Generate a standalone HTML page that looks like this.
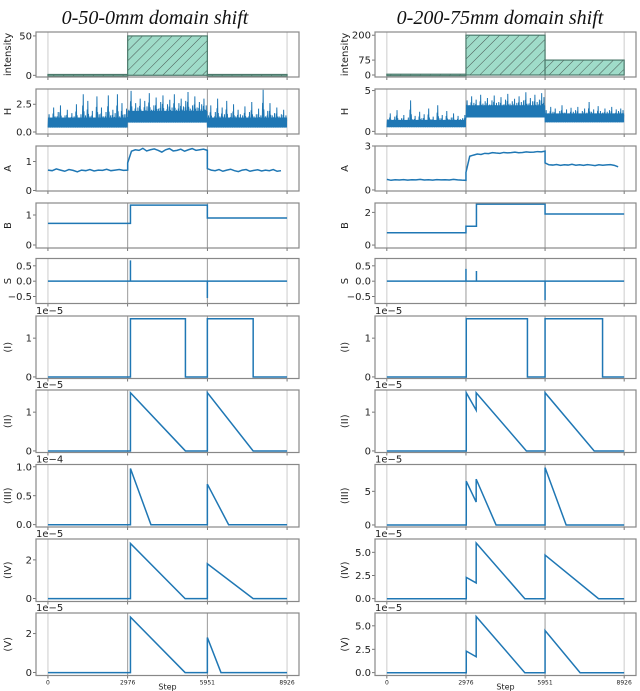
<!DOCTYPE html>
<html><head><meta charset="utf-8"><style>
html,body{margin:0;padding:0;background:#fff;}
svg{display:block;}
text{font-family:"DejaVu Sans","Liberation Sans",sans-serif;}
.title{font-family:"Liberation Serif",serif;font-style:italic;font-size:20px;fill:#111;}
</style></head><body>
<svg id="fig" width="640" height="691" viewBox="0 0 640 691" xmlns="http://www.w3.org/2000/svg">
<defs>
<pattern id="hatch" patternUnits="userSpaceOnUse" width="7" height="7" patternTransform="rotate(45)">
<rect width="7" height="7" fill="#9fdcc9"/><line x1="0" y1="0" x2="0" y2="7" stroke="#333" stroke-width="0.8"/>
</pattern>
</defs>
<text class="title" x="155" y="24" text-anchor="middle">0-50-0mm domain shift</text>
<text class="title" x="500" y="24" text-anchor="middle">0-200-75mm domain shift</text>
</svg>
<script>
// ---- data ----
const stepTicks = [0, 2976, 5951, 8926];
const segBounds = [0, 2976, 5951, 8926];
const intensityL = [1, 50, 1];
const intensityR = [4, 200, 75];
const hBaseL = [0.4, 0.85, 0.4];
const hTopL = [1.3, 1.9, 1.3];
const hPeaksL1 = [1.6,1.2,2.2,1.4,1.8,2.4,1.3,1.5,2.0,1.2,1.7,1.4,2.5,1.3,1.6,3.4,1.5,2.8,1.4,1.9,1.3,3.2,1.6,2.2,1.4,1.8,3.3,1.5,2.0,1.7,3.4,1.4,2.6,1.6,2.1];
const hPeaksL2 = [2.0,3.7,1.9,2.6,2.2,3.0,1.8,2.8,2.3,3.5,2.0,2.4,3.1,2.1,2.7,3.3,1.9,2.5,2.9,2.2,3.4,2.0,2.6,3.0,2.3,2.8,3.6,2.1,2.4,3.2,2.2,2.7,2.5,3.0,2.4];
const hPeaksL3 = [1.5,2.4,1.3,1.8,3.0,1.4,2.2,1.6,2.8,1.3,1.7,2.5,1.4,2.0,1.6,1.5,2.3,1.3,1.8,2.7,1.4,1.6,2.1,1.5,3.8,1.4,1.9,2.6,1.5,1.7,2.2,1.4,1.6,2.0,1.5];
const hBaseR = [0.5, 1.7, 1.1];
const hTopR = [1.4, 3.2, 2.2];
const hPeaksR1 = [1.5,2.2,1.3,1.8,2.6,1.4,1.6,2.0,1.3,1.7,3.8,1.5,1.9,1.4,2.4,1.6,2.1,1.4,2.8,1.5,1.8,1.3,3.2,1.6,2.0,1.4,2.5,1.5,1.7,2.2,1.4,1.9,1.5,1.6,2.0];
const hPeaksR2 = [3.8,3.2,4.3,3.5,3.9,3.1,4.5,3.4,3.7,4.1,3.3,3.8,4.4,3.5,3.6,4.2,3.3,3.9,4.6,3.4,3.7,4.0,3.5,4.3,3.6,3.8,4.8,3.4,4.1,3.7,4.5,3.6,3.9,4.7,4.2];
const hPeaksR3 = [2.6,2.2,3.0,2.4,2.8,2.1,2.5,3.2,2.3,2.7,2.2,2.9,2.4,2.6,3.0,2.2,2.5,2.8,2.3,3.6,2.4,2.7,2.2,3.1,2.5,2.3,2.8,2.4,2.6,3.0,2.2,2.7,2.5,2.8,2.6];
const aL1 = [0.70,0.68,0.74,0.70,0.66,0.72,0.69,0.64,0.70,0.68,0.72,0.67,0.70,0.69,0.73,0.68,0.70,0.72,0.69,0.70];
const aL2 = [0.95,1.35,1.40,1.38,1.45,1.36,1.40,1.43,1.38,1.32,1.40,1.44,1.36,1.38,1.42,1.35,1.40,1.44,1.38,1.40,1.42,1.38];
const aL3 = [0.75,0.70,0.68,0.72,0.66,0.70,0.73,0.68,0.65,0.70,0.72,0.66,0.69,0.71,0.67,0.70,0.68,0.72,0.66,0.68];
const aR1 = [0.72,0.66,0.70,0.68,0.71,0.67,0.70,0.69,0.72,0.68,0.70,0.67,0.71,0.69,0.70,0.68,0.72,0.69,0.67,0.66];
const aR2 = [1.2,2.3,2.38,2.45,2.42,2.50,2.48,2.55,2.52,2.50,2.56,2.53,2.55,2.58,2.54,2.56,2.60,2.57,2.58,2.62,2.60,2.65];
const aR3 = [1.85,1.72,1.70,1.74,1.68,1.72,1.70,1.75,1.69,1.72,1.68,1.73,1.70,1.66,1.72,1.69,1.71,1.73,1.68,1.58];
const bStepsL = [0, 3080, 5951, 8926];
const bValsL = [0.72, 1.33, 0.9];
const bStepsR = [0, 2976, 3370, 5951, 8926];
const bValsR = [0.75, 1.15, 2.5, 1.9];
const sStepsL = [3080, 5951];
const sValsL = [0.68, -0.55];
const sStepsR = [2976, 3370, 5951];
const sValsR = [0.4, 0.33, -0.62];
const iStepsL = [0,3080,3080,5132,5132,5951,5951,7661,7661,8926];
const iValsL  = [0,0,1.5,1.5,0,0,1.5,1.5,0,0];
const iStepsR = [0,2987,2987,5288,5288,5951,5951,8114,8114,8926];
const iValsR  = [0,0,1.5,1.5,0,0,1.5,1.5,0,0];
const iiStepsL = [0,3080,3080,5132,5951,5951,7661,8926];
const iiValsL  = [0,0,1.5,0,0,1.5,0,0];
const iiStepsR = [0,2987,2987,3360,3360,5250,5951,5951,7800,8926];
const iiValsR  = [0,0,1.5,1.05,1.5,0,0,1.5,0,0];
const iiiStepsL = [0,3080,3080,3845,5951,5951,6745,8926];
const iiiValsL  = [0,0,0.97,0,0,0.7,0,0];
const iiiStepsR = [0,2987,2987,3360,3360,4108,5951,5951,6745,8926];
const iiiValsR  = [0,0,6.5,3.4,6.8,0,0,8.5,0,0];
const ivStepsL = [0,3080,3080,5120,5951,5951,7661,8926];
const ivValsL  = [0,0,2.85,0,0,1.8,0,0];
const ivStepsR = [0,2987,2987,3360,3360,5190,5951,5951,7965,8926];
const ivValsR  = [0,0,2.3,1.7,6.0,0,0,4.7,0,0];
const vStepsL = [0,3080,3080,5120,5951,5951,6460,8926];
const vValsL  = [0,0,2.85,0,0,1.8,0,0];
const vStepsR = [0,2987,2987,3360,3360,5190,5951,5951,7270,8926];
const vValsR  = [0,0,2.3,1.7,6.0,0,0,4.5,0,0];

// ---- drawing ----
const NS = "http://www.w3.org/2000/svg";
const fig = document.getElementById('fig');
const BLUE = '#1f77b4';
const XLIM = [-446, 9372];
function mk(tag, attrs, parent){const e=document.createElementNS(NS,tag);for(const k in attrs)e.setAttribute(k,attrs[k]);(parent||fig).appendChild(e);return e;}
const rowTops = [32, 89, 146, 203, 258.5, 316, 390, 464.5, 539, 613];
const rowH = [45,45,45,45,45,62.5,62.5,62.5,62.5,62.5];
const cols = [{x0:36,x1:299,side:'left',labX:11},{x0:375,x1:636,side:'right',labX:348}];

function makePanel(ci, ri, ylim, ticks, tickLabels, ylabel, offset){
  const c = cols[ci], y0 = rowTops[ri], h = rowH[ri];
  const g = mk('g',{});
  
  
  const sx = v => c.x0 + (v - XLIM[0])/(XLIM[1]-XLIM[0])*(c.x1-c.x0);
  const sy = v => y0 + h - (v - ylim[0])/(ylim[1]-ylim[0])*h;
  stepTicks.forEach((s,i)=>{
    const ln = mk('line',{x1:sx(s),x2:sx(s),y1:y0,y2:y0+h,stroke:(i==0||i==3)?'#ccc':'#999','stroke-width':1},g);
    
    
    mk('line',{x1:sx(s),x2:sx(s),y1:y0+h,y2:y0+h+3,stroke:'#555','stroke-width':0.8},g);
  });
  ticks.forEach((t,i)=>{
    mk('line',{x1:c.x0-3,x2:c.x0,y1:sy(t),y2:sy(t),stroke:'#555','stroke-width':0.8},g);
    const tx = mk('text',{x:c.x0-4,y:sy(t)+3.5,'text-anchor':'end','font-size':10,fill:'#222'},g);
    tx.textContent = tickLabels[i];
    
    
  });
  const yl = mk('text',{x:c.labX,y:y0+h/2,'text-anchor':'middle','font-size':10,fill:'#222',transform:`rotate(-90 ${c.labX} ${y0+h/2})`},g);
  yl.textContent = ylabel;
  
  
  if(offset){
    const ot = mk('text',{x:c.x0,y:y0-2,'font-size':10,fill:'#222'},g);
    ot.textContent = offset;
    
    
  }
  return {g, sx, sy, box:[c.x0,y0,c.x1-c.x0,h]};
}
function frame(p){
  const r = mk('rect',{x:p.box[0],y:p.box[1],width:p.box[2],height:p.box[3],fill:'none',stroke:'#888','stroke-width':1.2},p.g);
  
  
}
function line(p, xs, ys, name){
  const pts = xs.map((x,i)=>p.sx(x).toFixed(2)+','+p.sy(ys[i]).toFixed(2)).join(' ');
  const pl = mk('polyline',{points:pts,fill:'none',stroke:BLUE,'stroke-width':1.5,'stroke-linejoin':'miter'},p.g);
  
  
}
function segLine(p, segs, name, endStep){
  const xs=[], ys=[];
  segs.forEach((vals,si)=>{
    const a = segBounds[si], b = (si==2 && endStep) ? endStep : segBounds[si+1];
    vals.forEach((v,i)=>{ xs.push(a + (b-a)*i/(vals.length-1)); ys.push(v); });
  });
  line(p, xs, ys, name);
}
function noise(p, bases, tops, peaks, name){
  // dense band
  bases.forEach((b,si)=>{
    const x0=p.sx(segBounds[si]), x1=p.sx(segBounds[si+1]);
    const r = mk('rect',{x:x0,y:p.sy(tops[si]),width:x1-x0,height:p.sy(b)-p.sy(tops[si]),fill:BLUE},p.g);
    
    
  });
  const xs=[], ys=[];
  peaks.forEach((vals,si)=>{
    const a = segBounds[si], b = segBounds[si+1];
    const n = vals.length;
    vals.forEach((v,i)=>{
      const x = a + (b-a)*(i+0.5)/n;
      const dx = (b-a)/n/2;
      const mid = (bases[si]+tops[si])/2;
      xs.push(x-dx*0.9); ys.push(bases[si]);
      xs.push(x-dx*0.5); ys.push(mid + (v-mid)*0.6);
      xs.push(x-dx*0.2); ys.push(bases[si]+0.1);
      xs.push(x); ys.push(v);
      xs.push(x+dx*0.3); ys.push(bases[si]+0.05);
      xs.push(x+dx*0.6); ys.push(mid + (v-mid)*0.4);
    });
  });
  const pts = xs.map((x,i)=>p.sx(x).toFixed(2)+','+p.sy(ys[i]).toFixed(2)).join(' ');
  const pl = mk('polyline',{points:pts,fill:'none',stroke:BLUE,'stroke-width':1},p.g);
  
  
}
function bars(p, vals){
  vals.forEach((v,i)=>{
    const a=p.sx(segBounds[i]), b=p.sx(segBounds[i+1]), y=p.sy(v), y0=p.sy(0);
    const r = mk('rect',{x:a,y:Math.min(y,y0),width:b-a,height:Math.max(Math.abs(y0-y),1.5),fill:'url(#hatch)',stroke:'#4d7a6c','stroke-width':1.2},p.g);
    
    
  });
}
function spikes(p, steps, vals){
  const xs=[0], ys=[0];
  steps.forEach((s,i)=>{xs.push(s,s,s);ys.push(0,vals[i],0);});
  xs.push(8926); ys.push(0);
  line(p, xs, ys, 's-line');
}

let p;
p = makePanel(0,0,[-2.2,55],[0,50],['0','50'],'intensity'); bars(p,intensityL); frame(p);
p = makePanel(0,1,[-0.18,3.87],[0,2.5],['0.0','2.5'],'H'); noise(p,hBaseL,hTopL,[hPeaksL1,hPeaksL2,hPeaksL3],'h-line'); frame(p);
p = makePanel(0,2,[-0.02,1.53],[0,1],['0','1'],'A'); segLine(p,[aL1,aL2,aL3],'a-line',8700); frame(p);
p = makePanel(0,3,[-0.1,1.4],[0,1],['0','1'],'B');
(function(){const xs=[],ys=[];bValsL.forEach((v,i)=>{xs.push(bStepsL[i],bStepsL[i+1]);ys.push(v,v);});line(p,xs,ys,'b-line');})(); frame(p);
p = makePanel(0,4,[-0.73,0.74],[0.5,0,-0.5],['0.5','0.0','\u22120.5'],'S'); spikes(p,sStepsL,sValsL); frame(p);
p = makePanel(0,5,[-0.04,1.57],[0,1],['0','1'],'(I)','1e\u22125'); line(p,iStepsL,iValsL,'i-line'); frame(p);
p = makePanel(0,6,[-0.04,1.57],[0,1],['0','1'],'(II)','1e\u22125'); line(p,iiStepsL,iiValsL,'ii-line'); frame(p);
p = makePanel(0,7,[-0.04,1.04],[0,0.5,1.0],['0.0','0.5','1.0'],'(III)','1e\u22124'); line(p,iiiStepsL,iiiValsL,'iii-line'); frame(p);
p = makePanel(0,8,[-0.15,3.08],[0,2],['0','2'],'(IV)','1e\u22125'); line(p,ivStepsL,ivValsL,'iv-line'); frame(p);
p = makePanel(0,9,[-0.15,3.06],[0,2],['0','2'],'(V)','1e\u22125'); line(p,vStepsL,vValsL,'v-line'); frame(p);
p = makePanel(1,0,[-10,216],[0,75,200],['0','75','200'],'intensity'); bars(p,intensityR); frame(p);
p = makePanel(1,1,[-0.33,5.2],[0,5],['0','5'],'H'); noise(p,hBaseR,hTopR,[hPeaksR1,hPeaksR2,hPeaksR3],'h-line'); frame(p);
p = makePanel(1,2,[-0.07,3.0],[0,3],['0','3'],'A'); segLine(p,[aR1,aR2,aR3],'a-line',8700); frame(p);
p = makePanel(1,3,[-0.18,2.57],[0,2],['0','2'],'B');
(function(){const xs=[],ys=[];bValsR.forEach((v,i)=>{xs.push(bStepsR[i],bStepsR[i+1]);ys.push(v,v);});line(p,xs,ys,'b-line');})(); frame(p);
p = makePanel(1,4,[-0.73,0.74],[0.5,0,-0.5],['0.5','0.0','\u22120.5'],'S'); spikes(p,sStepsR,sValsR); frame(p);
p = makePanel(1,5,[-0.04,1.57],[0,1],['0','1'],'(I)','1e\u22125'); line(p,iStepsR,iValsR,'i-line'); frame(p);
p = makePanel(1,6,[-0.04,1.57],[0,1],['0','1'],'(II)','1e\u22125'); line(p,iiStepsR,iiValsR,'ii-line'); frame(p);
p = makePanel(1,7,[-0.3,8.97],[0,5],['0','5'],'(III)','1e\u22125'); line(p,iiiStepsR,iiiValsR,'iii-line'); frame(p);
p = makePanel(1,8,[-0.3,6.43],[0,2.5,5],['0.0','2.5','5.0'],'(IV)','1e\u22125'); line(p,ivStepsR,ivValsR,'iv-line'); frame(p);
p = makePanel(1,9,[-0.3,6.37],[0,2.5,5],['0.0','2.5','5.0'],'(V)','1e\u22125'); line(p,vStepsR,vValsR,'v-line'); frame(p);

cols.forEach(c=>{
  const sx = v => c.x0 + (v - XLIM[0])/(XLIM[1]-XLIM[0])*(c.x1-c.x0);
  const bottom = rowTops[9]+rowH[9];
  stepTicks.forEach(s=>{
    const t = mk('text',{x:sx(s),y:bottom+9,'text-anchor':'middle','font-size':6,fill:'#222'});
    t.textContent = String(s);
    
    
  });
  const st = mk('text',{x:(c.x0+c.x1)/2,y:bottom+14,'text-anchor':'middle','font-size':8,fill:'#222'});
  st.textContent = 'Step';
  
  
});
</script>
</body></html>
